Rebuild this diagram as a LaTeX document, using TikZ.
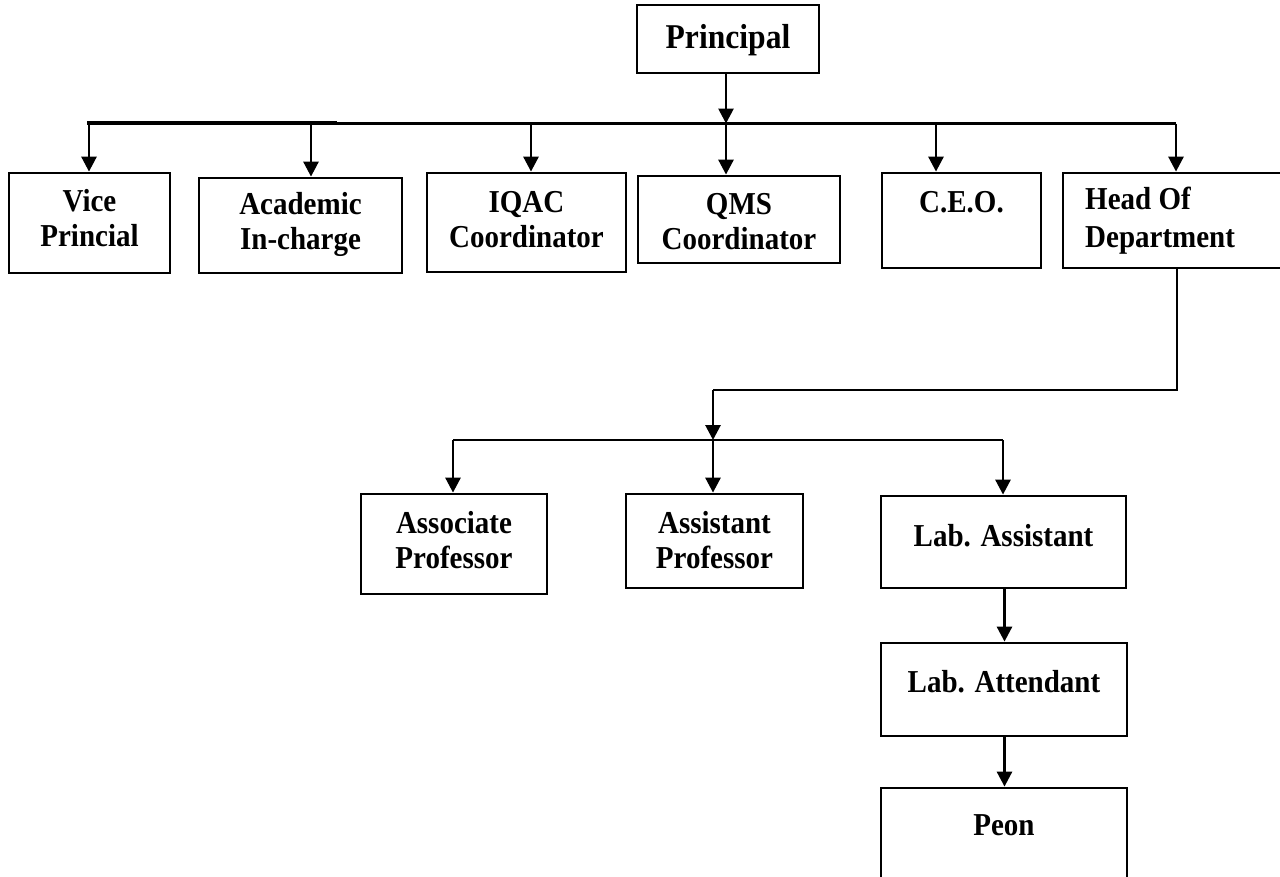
\documentclass[tikz,border=0pt]{standalone}
\usepackage{graphicx}
\usepackage{fontspec}
\setmainfont{Liberation Serif}
\usetikzlibrary{arrows.meta}
\newcommand\stx[1]{\scalebox{1}[1.1]{#1}}
\begin{document}
\begin{tikzpicture}[x=1pt,y=-1pt,
  box/.style={draw, line width=2.8pt, inner sep=0pt},
  txt/.style={font=\bfseries\fontsize{29}{35}\selectfont, align=center, inner sep=0pt},
  conn/.style={line width=2.8pt},
  arr/.style={line width=2.8pt, -{Triangle[length=15pt,width=15pt]}}]
\clip (0,0) rectangle (1280,876);
\fill[white] (0,0) rectangle (1280,876);
% boxes
\node[box, minimum width=182pt, minimum height=68pt] (principal) at (728,39) {};
\node[box, minimum width=161pt, minimum height=100pt] (vice) at (89.5,223) {};
\node[box, minimum width=203pt, minimum height=95pt] (acad) at (300.5,225.5) {};
\node[box, minimum width=199pt, minimum height=99pt] (iqac) at (526.5,222.5) {};
\node[box, minimum width=202pt, minimum height=87pt] (qms) at (739,219.5) {};
\node[box, minimum width=159pt, minimum height=95pt] (ceo) at (961.5,220.5) {};
\node[box, minimum width=247pt, minimum height=95pt] (hod) at (1186.5,220.5) {};
\node[box, minimum width=186pt, minimum height=100pt] (assoc) at (454,544) {};
\node[box, minimum width=177pt, minimum height=94pt] (asst) at (714.5,541) {};
\node[box, minimum width=245pt, minimum height=92pt] (labasst) at (1003.5,542) {};
\node[box, minimum width=246pt, minimum height=93pt] (labatt) at (1004,689.5) {};
\node[box, minimum width=246pt, minimum height=102pt] (peon) at (1004,839) {};
% texts
\node[txt, font=\bfseries\fontsize{31.6}{36}\selectfont] (principalt) at (728,40) {\stx{Principal}};
\node[txt] (vicet) at (89.5,218.5) {\stx{Vice}\\\stx{Princial}};
\node[txt] (acadt) at (300.5,224.5) {\stx{Academic}\\\stx{In-charge}};
\node[txt] (iqact) at (526.5,219.5) {\stx{IQAC}\\\stx{Coordinator}};
\node[txt] (qmst) at (739,221.5) {\stx{QMS}\\\stx{Coordinator}};
\node[txt] (ceot) at (961.5,202) {\stx{C.E.O.}};
\node[txt, font=\bfseries\fontsize{29}{38}\selectfont, align=left, anchor=west] (hodt) at (1085,221) {\stx{Head Of}\\\stx{Department}};
\node[txt] (assoct) at (454,540.5) {\stx{Associate}\\\stx{Professor}};
\node[txt] (asstt) at (714.5,540.5) {\stx{Assistant}\\\stx{Professor}};
\node[txt] (labasstt) at (1003.5,536) {\stx{Lab. Assistant}};
\node[txt] (labattt) at (1004,682) {\stx{Lab. Attendant}};
\node[txt] (peont) at (1004,825) {\stx{Peon}};
% top bus
\coordinate (bL) at (87,123.5);
\coordinate (bM) at (337,122);
\coordinate (b1) at (89,123.5);
\coordinate (b2) at (311,123.5);
\coordinate (b3) at (531,123.5);
\coordinate (b4) at (726,123.5);
\coordinate (b5) at (936,123.5);
\coordinate (b6) at (1176,123.5);
\draw[conn] (bL) -- (b6);
\draw[conn] (bL |- bM) -- (bM);
\draw[arr] (b4 |- principal.south) -- (b4);
\draw[arr] (b1) -- (b1 |- vice.north);
\draw[arr] (b2) -- (b2 |- acad.north);
\draw[arr] (b3) -- (b3 |- iqac.north);
\draw[arr] (b4) -- (b4 |- qms.north);
\draw[arr] (b5) -- (b5 |- ceo.north);
\draw[arr] (b6) -- (b6 |- hod.north);
% HOD to second level
\coordinate (h1) at (1177,390);
\coordinate (h2) at (713,390);
\coordinate (d0) at (713,440);
\coordinate (c1) at (453,440);
\coordinate (c3) at (1003,440);
\coordinate (v1) at (1004.5,600);
\draw[conn] (h1 |- hod.south) -- (h1) -- (h2);
\draw[arr] (h2) -- (d0);
\draw[conn] (c1) -- (c3);
\draw[arr] (c1) -- (c1 |- assoc.north);
\draw[arr] (d0) -- (d0 |- asst.north);
\draw[arr] (c3) -- (c3 |- labasst.north);
\draw[arr] (v1 |- labasst.south) -- (v1 |- labatt.north);
\draw[arr] (v1 |- labatt.south) -- (v1 |- peon.north);
\end{tikzpicture}
\end{document}
